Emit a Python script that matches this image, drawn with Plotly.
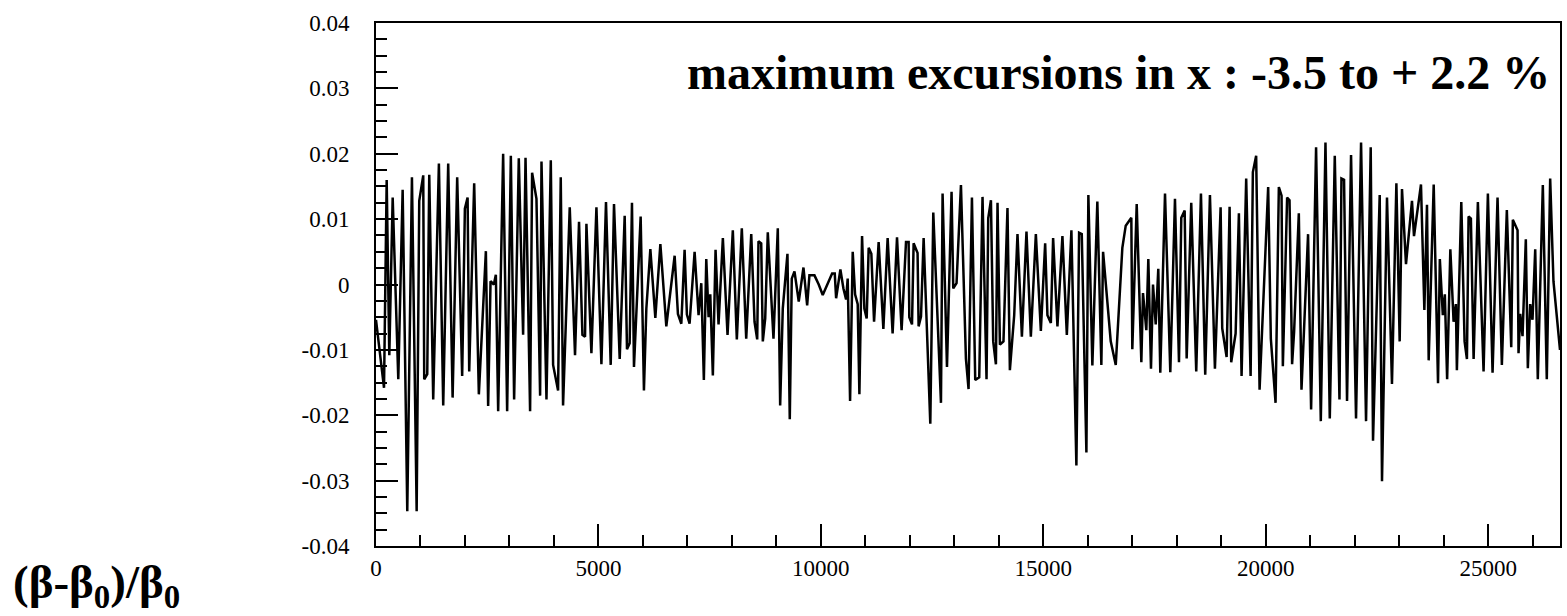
import plotly.graph_objects as go

# position along the ring (m) and relative beta-beat values
s_m = [0, 180, 240, 299, 375, 501, 599, 703, 808, 914, 972, 1062, 1084, 1152, 1197, 1286, 1414, 1511, 1623, 1722,
       1825, 1937, 1998, 2059, 2095, 2207, 2312, 2470, 2521, 2575, 2649, 2694, 2746, 2858, 2948, 3031, 3105, 3210, 3307, 3361,
       3464, 3509, 3607, 3689, 3720, 3832, 3929, 3981, 4093, 4153, 4205, 4355, 4474, 4564, 4640, 4699, 4730, 4842, 4955, 5067,
       5170, 5276, 5350, 5478, 5590, 5642, 5702, 5754, 5799, 5949, 6023, 6077, 6167, 6279, 6392, 6526, 6600, 6713, 6787, 6863,
       6937, 6989, 7049, 7162, 7251, 7312, 7370, 7424, 7476, 7514, 7572, 7633, 7700, 7797, 7902, 8021, 8111, 8223, 8322, 8435,
       8509, 8569, 8598, 8659, 8695, 8749, 8807, 8935, 9032, 9085, 9144, 9249, 9301, 9346, 9407, 9503, 9609, 9692, 9743, 9856,
       9952, 10042, 10253, 10312, 10343, 10439, 10507, 10567, 10603, 10657, 10716, 10769, 10828, 10866, 10926, 10978, 11030, 11075, 11135, 11196,
       11299, 11405, 11501, 11613, 11712, 11815, 11914, 11973, 11988, 12049, 12085, 12174, 12197, 12251, 12310, 12460, 12527, 12700, 12736, 12835,
       12938, 12976, 13050, 13149, 13261, 13320, 13396, 13470, 13560, 13634, 13724, 13762, 13823, 13874, 13935, 13971, 14025, 14105, 14195, 14249,
       14346, 14420, 14519, 14622, 14720, 14833, 14945, 15042, 15093, 15170, 15221, 15318, 15430, 15529, 15632, 15744, 15805, 15865, 15969, 16013,
       16103, 16215, 16305, 16344, 16516, 16629, 16777, 16853, 16979, 17001, 17100, 17204, 17241, 17316, 17361, 17421, 17466, 17527, 17585, 17630,
       17736, 17855, 17960, 18050, 18102, 18178, 18223, 18326, 18438, 18544, 18640, 18746, 18858, 18986, 19022, 19121, 19188, 19224, 19323, 19397,
       19457, 19561, 19660, 19711, 19785, 19862, 20055, 20115, 20221, 20295, 20356, 20385, 20481, 20535, 20593, 20638, 20744, 20804, 20952, 21020,
       21132, 21238, 21343, 21440, 21552, 21658, 21702, 21761, 21828, 21918, 22030, 22143, 22255, 22360, 22412, 22562, 22614, 22726, 22838, 22937,
       23011, 23063, 23153, 23288, 23333, 23490, 23566, 23625, 23663, 23776, 23873, 23914, 23981, 24026, 24078, 24150, 24223, 24275, 24297, 24396,
       24470, 24523, 24560, 24612, 24673, 24769, 24897, 24994, 25099, 25211, 25308, 25420, 25519, 25555, 25661, 25683, 25721, 25773, 25847, 25892,
       25945, 25997, 26058, 26116, 26229, 26318, 26394, 26468, 26615]

dbeta = [-0.0054, -0.0158, 0.0160, -0.0108, 0.0133, -0.0145, 0.0145, -0.0347, 0.0164, -0.0347, 0.0128, 0.0167, -0.0145, -0.0137, 0.0168, -0.0176, 0.0185, -0.0185, 0.0185, -0.0173,
         0.0164, -0.0140, 0.0116, 0.0133, -0.0133, 0.0155, -0.0168, 0.0051, -0.0186, 0.0005, 0.0000, 0.0015, -0.0194, 0.0200, -0.0194, 0.0197, -0.0176, 0.0193, -0.0077, 0.0194,
         -0.0194, 0.0171, 0.0131, -0.0170, 0.0188, -0.0176, 0.0190, -0.0123, -0.0162, 0.0164, -0.0185, 0.0118, -0.0108, 0.0096, -0.0077, -0.0080, 0.0093, -0.0105, 0.0118, -0.0122,
         0.0126, -0.0123, 0.0123, -0.0114, 0.0105, -0.0099, -0.0090, 0.0125, -0.0126, 0.0104, -0.0162, -0.0037, 0.0054, -0.0051, 0.0062, -0.0064, -0.0021, 0.0044, -0.0045, -0.0060,
         0.0053, -0.0046, -0.0060, 0.0050, -0.0047, 0.0002, -0.0146, 0.0039, -0.0050, -0.0015, -0.0139, 0.0053, -0.0061, 0.0071, -0.0077, 0.0083, -0.0084, 0.0086, -0.0083, 0.0077,
         -0.0057, -0.0084, 0.0066, 0.0063, -0.0087, -0.0052, 0.0080, -0.0083, 0.0086, -0.0185, -0.0037, 0.0047, -0.0206, 0.0009, 0.0020, -0.0026, 0.0026, -0.0032, 0.0014, 0.0014,
         0.0000, -0.0016, 0.0017, 0.0017, -0.0021, 0.0023, -0.0006, -0.0023, 0.0009, -0.0178, 0.0050, -0.0015, -0.0030, -0.0168, 0.0074, -0.0037, -0.0052, 0.0056, 0.0047, -0.0057,
         0.0065, -0.0068, 0.0071, -0.0075, 0.0072, -0.0070, 0.0065, 0.0065, -0.0050, -0.0061, 0.0063, 0.0048, -0.0064, -0.0049, 0.0071, -0.0213, 0.0110, -0.0181, 0.0139, -0.0126,
         0.0142, -0.0006, 0.0002, 0.0152, -0.0114, -0.0160, 0.0133, -0.0146, -0.0142, 0.0134, -0.0145, 0.0101, 0.0129, -0.0087, -0.0122, 0.0125, -0.0092, -0.0087, 0.0117, -0.0131,
         -0.0047, 0.0077, -0.0080, 0.0081, -0.0080, 0.0077, -0.0071, 0.0063, -0.0047, -0.0059, 0.0071, -0.0064, 0.0074, -0.0077, 0.0083, -0.0277, 0.0079, 0.0077, -0.0257, 0.0137,
         -0.0124, 0.0127, -0.0123, 0.0050, -0.0087, -0.0123, 0.0056, 0.0090, 0.0102, -0.0099, 0.0123, -0.0119, -0.0013, -0.0070, 0.0039, -0.0129, 0.0000, -0.0061, 0.0024, -0.0135,
         0.0139, -0.0134, 0.0131, -0.0119, 0.0102, 0.0113, -0.0113, 0.0125, -0.0133, 0.0139, -0.0138, 0.0137, -0.0129, 0.0118, -0.0067, -0.0111, 0.0119, -0.0119, -0.0075, 0.0109,
         -0.0140, 0.0162, -0.0140, 0.0172, 0.0197, -0.0161, 0.0149, -0.0083, -0.0181, 0.0149, 0.0136, -0.0125, 0.0133, 0.0129, -0.0122, -0.0072, 0.0109, -0.0161, 0.0077, -0.0191,
         0.0210, -0.0209, 0.0217, -0.0205, 0.0197, -0.0176, 0.0162, 0.0160, -0.0178, 0.0198, -0.0205, 0.0217, -0.0209, 0.0210, -0.0239, 0.0137, -0.0301, 0.0133, -0.0152, 0.0155,
         -0.0087, 0.0146, 0.0031, 0.0128, 0.0074, 0.0153, -0.0039, 0.0122, -0.0116, 0.0153, -0.0151, 0.0039, -0.0047, -0.0015, -0.0145, 0.0054, -0.0057, -0.0030, -0.0131, 0.0126,
         -0.0087, -0.0114, 0.0104, 0.0101, -0.0114, 0.0126, -0.0133, 0.0139, -0.0135, 0.0133, -0.0123, 0.0114, -0.0096, 0.0099, 0.0083, -0.0105, -0.0045, -0.0079, 0.0069, -0.0128,
         -0.0030, -0.0054, 0.0054, -0.0145, 0.0152, -0.0145, 0.0162, 0.0005, -0.0100]

x_ticks = [0, 5000, 10000, 15000, 20000, 25000]
x_tick_text = ["0", "5000", "10000", "15000", "20000", "25000"]
y_ticks = [-0.04, -0.03, -0.02, -0.01, 0, 0.01, 0.02, 0.03, 0.04]
y_tick_text = ["-0.04", "-0.03", "-0.02", "-0.01", "0", "0.01", "0.02", "0.03", "0.04"]

SERIF = "Liberation Serif, Times New Roman, serif"

fig = go.Figure()
fig.add_trace(go.Scatter(x=s_m, y=dbeta, mode="lines",
                         line=dict(color="black", width=2.5), hoverinfo="skip", showlegend=False))

fig.update_layout(
    width=1567, height=616,
    margin=dict(l=376, r=5, t=23, b=70),
    paper_bgcolor="white", plot_bgcolor="white",
    font=dict(family=SERIF, size=23, color="black"),
    showlegend=False,
)

fig.update_xaxes(
    range=[0, 26615], tickvals=x_ticks, ticktext=x_tick_text,
    ticks="inside", ticklen=22, tickwidth=2, tickcolor="black",
    minor=dict(ticks="inside", ticklen=11, tickwidth=2, tickcolor="black", dtick=1000, tick0=0),
    showline=True, linewidth=2, linecolor="black", mirror=True,
    showgrid=False, zeroline=False,
    tickfont=dict(family=SERIF, size=23, color="black"),
)
fig.update_yaxes(
    range=[-0.04, 0.04], tickvals=y_ticks, ticktext=y_tick_text,
    ticks="inside", ticklen=22, tickwidth=2, tickcolor="black",
    minor=dict(ticks="inside", ticklen=11, tickwidth=2, tickcolor="black", dtick=0.0025, tick0=0),
    showline=True, linewidth=2, linecolor="black", mirror=True,
    showgrid=False, zeroline=False,
    tickfont=dict(family=SERIF, size=23, color="black"),
    ticklabelstandoff=20,
)

fig.add_annotation(
    text="<b>maximum excursions in x : -3.5 to + 2.2 %</b>",
    xref="paper", yref="paper", x=0.993, y=0.905, xanchor="right", yanchor="middle",
    showarrow=False, font=dict(family=SERIF, size=48, color="black"),
)
fig.add_annotation(
    text="<b>(β-β<sub>0</sub>)/β<sub>0</sub></b>",
    xref="paper", yref="paper", x=-0.236, y=-0.075, xanchor="center", yanchor="middle",
    showarrow=False, font=dict(family=SERIF, size=47, color="black"),
)

# remove the default page margin so the figure sits at the window's top-left corner
fig.write_html("out.html", config={"displayModeBar": False},
               post_script="document.body.style.margin='0px';")
